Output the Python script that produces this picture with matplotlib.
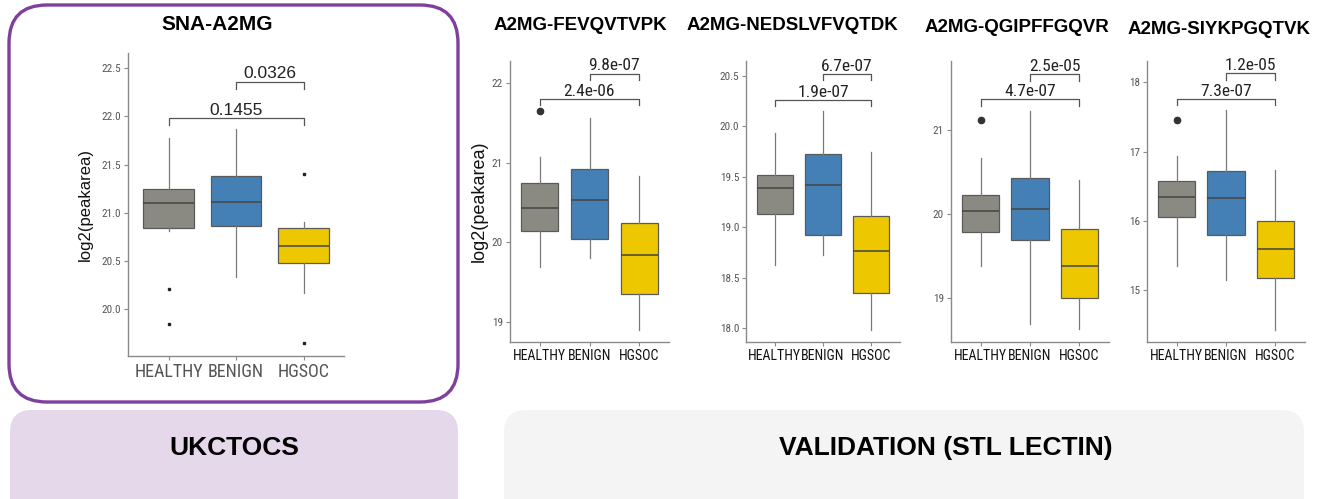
import numpy as np
import matplotlib
matplotlib.use('Agg')
import matplotlib.pyplot as plt
from matplotlib.patches import FancyBboxPatch

W, H = 1326, 499

groups = ['HEALTHY', 'BENIGN', 'HGSOC']
box_colors = ['#8b8a82', '#4480b5', '#edc800']

# per group: [whisker low, q1, median, q3, whisker high]
sna_stats = [[20.81, 20.84, 21.10, 21.25, 21.78],
             [20.33, 20.86, 21.11, 21.38, 21.87],
             [20.17, 20.48, 20.65, 20.84, 20.90]]
sna_out = [[20.21, 19.84], [], [21.40, 19.65]]
sna_pvals = ['0.1455', '0.0326']
sna_bracket_y = [21.98, 22.36]

fev_stats = [[19.69, 20.15, 20.43, 20.75, 21.08],
             [19.80, 20.04, 20.53, 20.92, 21.56],
             [18.90, 19.35, 19.84, 20.24, 20.84]]
fev_out = [[21.65], [], []]
fev_pvals = ['2.4e-06', '9.8e-07']
fev_bracket_y = [21.80, 22.12]

ned_stats = [[18.62, 19.13, 19.39, 19.52, 19.94],
             [18.72, 18.92, 19.42, 19.73, 20.15],
             [17.98, 18.35, 18.76, 19.11, 19.75]]
ned_out = [[], [], []]
ned_pvals = ['1.9e-07', '6.7e-07']
ned_bracket_y = [20.26, 20.52]

qgi_stats = [[19.38, 19.78, 20.04, 20.23, 20.67],
             [18.68, 19.69, 20.06, 20.43, 21.23],
             [18.62, 19.00, 19.38, 19.82, 20.41]]
qgi_out = [[21.12], [], []]
qgi_pvals = ['4.7e-07', '2.5e-05']
qgi_bracket_y = [21.37, 21.67]

siy_stats = [[15.35, 16.05, 16.35, 16.57, 16.94],
             [15.14, 15.80, 16.33, 16.72, 17.60],
             [14.43, 15.17, 15.59, 16.00, 16.74]]
siy_out = [[17.46], [], []]
siy_pvals = ['7.3e-07', '1.2e-05']
siy_bracket_y = [17.76, 18.13]

NARROW = ['Roboto Condensed', 'Liberation Sans', 'DejaVu Sans']
BOLD = ['Liberation Sans', 'DejaVu Sans']

fig = plt.figure(figsize=(W / 100, H / 100), dpi=100)

# pixel-space layer for the rounded frames and bottom labels
bg = fig.add_axes([0, 0, 1, 1], zorder=0)
bg.set_xlim(0, W)
bg.set_ylim(H, 0)
bg.axis('off')

bg.add_patch(FancyBboxPatch((9, 5), 449, 397, boxstyle='round,pad=0,rounding_size=38',
                            facecolor='white', edgecolor='#7f3f9c', lw=2.4))
bg.add_patch(FancyBboxPatch((10, 410), 448, 120, boxstyle='round,pad=0,rounding_size=22',
                            facecolor='#e5d8ea', edgecolor='none'))
bg.add_patch(FancyBboxPatch((504, 410), 800, 120, boxstyle='round,pad=0,rounding_size=22',
                            facecolor='#f4f4f4', edgecolor='none'))
bg.text(234, 448, 'UKCTOCS', ha='center', va='center', fontsize=19,
        fontweight='bold', family=BOLD)
bg.text(946, 448, 'VALIDATION (STL LECTIN)', ha='center', va='center', fontsize=19,
        fontweight='bold', family=BOLD)


def panel(rect, stats, outliers, pvals, bracket_y, ylim, yticks, yfmt, title, title_xy,
          title_size, first=False, ylabel=False):
    x0, y0, x1, y1 = rect
    ax = fig.add_axes([x0 / W, 1 - y1 / H, (x1 - x0) / W, (y1 - y0) / H], zorder=1)
    ax.patch.set_alpha(0)

    bxp_stats = []
    for s, o in zip(stats, outliers):
        bxp_stats.append({'whislo': s[0], 'q1': s[1], 'med': s[2], 'q3': s[3],
                          'whishi': s[4], 'fliers': o})
    if first:
        flier = dict(marker='s', markersize=2, markerfacecolor='#222222',
                     markeredgecolor='#222222', linestyle='none')
    else:
        flier = dict(marker='o', markersize=4.5, markerfacecolor='#333333',
                     markeredgecolor='#333333', linestyle='none')
    bp = ax.bxp(bxp_stats, positions=[1, 2, 3], widths=0.75, patch_artist=True,
                showcaps=False, flierprops=flier,
                boxprops=dict(edgecolor='#5a5a5a', lw=0.9),
                medianprops=dict(color='#444444', lw=1.1),
                whiskerprops=dict(color='#7a7a7a', lw=0.9))
    for patch, c in zip(bp['boxes'], box_colors):
        patch.set_facecolor(c)

    # significance brackets: HEALTHY-HGSOC and BENIGN-HGSOC
    span = ylim[1] - ylim[0]
    drop = span * 0.022
    for (a, b), y, p in zip([(1, 3), (2, 3)], bracket_y, pvals):
        ax.plot([a, a, b, b], [y - drop, y, y, y - drop], color='#555555', lw=0.9,
                clip_on=False)
        if first:
            ax.text((a + b) / 2, y + span * 0.012, p, ha='center', va='baseline',
                    fontsize=12.5, color='#222222', family=BOLD)
        else:
            ax.text((a + b) / 2, y + span * 0.012, p, ha='center', va='baseline',
                    fontsize=12.5, color='#222222', family=NARROW)

    ax.set_xlim(0.4, 3.6)
    ax.set_ylim(*ylim)
    ax.set_yticks(yticks)
    ax.set_yticklabels([yfmt.format(t) for t in yticks])
    ax.set_xticks([1, 2, 3])
    ax.set_xticklabels(groups)
    for sp in ['top', 'right']:
        ax.spines[sp].set_visible(False)
    for sp in ['left', 'bottom']:
        ax.spines[sp].set_color('#8a8a8a')
        ax.spines[sp].set_linewidth(1.0)
    ax.tick_params(colors='#8a8a8a', length=3, width=0.8, pad=2)
    for lab in ax.get_yticklabels():
        lab.set_family(NARROW)
        lab.set_fontsize(8)
        lab.set_color('#555555')
    for lab in ax.get_xticklabels():
        lab.set_family(NARROW)
        if first:
            lab.set_fontsize(13)
            lab.set_color('#555555')
        else:
            lab.set_fontsize(10)
            lab.set_color('#111111')
    if ylabel:
        ax.set_ylabel('log2(peakarea)', family=BOLD, fontsize=12 if first else 13,
                      color='#111111', labelpad=6 if first else 3)

    fig.text(title_xy[0] / W, 1 - title_xy[1] / H, title, ha='center', va='center',
             fontsize=title_size, fontweight='bold', family=BOLD)
    return ax


panel((128, 53, 344, 356), sna_stats, sna_out, sna_pvals, sna_bracket_y,
      (19.51, 22.66), np.arange(20.0, 22.51, 0.5), '{:.1f}', 'SNA-A2MG', (217, 25), 15,
      first=True, ylabel=True)
panel((510, 61, 669, 342), fev_stats, fev_out, fev_pvals, fev_bracket_y,
      (18.75, 22.28), [19, 20, 21, 22], '{:.0f}', 'A2MG-FEVQVTVPK', (580, 26), 13.5,
      ylabel=True)
panel((746, 61, 900, 342), ned_stats, ned_out, ned_pvals, ned_bracket_y,
      (17.86, 20.65), np.arange(18.0, 20.51, 0.5), '{:.1f}', 'A2MG-NEDSLVFVQTDK', (792, 26), 13.5)
panel((951, 61, 1109, 342), qgi_stats, qgi_out, qgi_pvals, qgi_bracket_y,
      (18.47, 21.83), [19, 20, 21], '{:.0f}', 'A2MG-QGIPFFGQVR', (1017, 27), 13.5)
panel((1147, 61, 1305, 342), siy_stats, siy_out, siy_pvals, siy_bracket_y,
      (14.25, 18.31), [15, 16, 17, 18], '{:.0f}', 'A2MG-SIYKPGQTVK', (1219, 29), 13.5)

fig.savefig('out.png', dpi=100)
